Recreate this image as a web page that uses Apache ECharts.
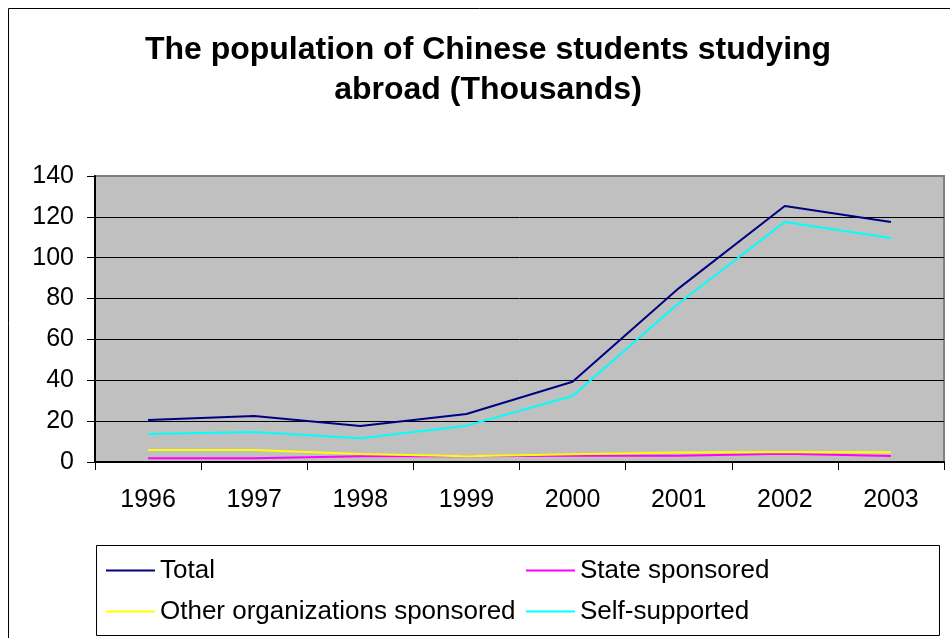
<!DOCTYPE html>
<html>
<head>
<meta charset="utf-8">
<script src="https://cdn.jsdelivr.net/npm/echarts@6/dist/echarts.min.js"></script>
<style>
html,body{margin:0;padding:0;background:#fff;}
#chart{width:950px;height:638px;}
</style>
</head>
<body>
<div id="chart"></div>
<script>
var years = ['1996', '1997', '1998', '1999', '2000', '2001', '2002', '2003'];
var totalValues = [20.6, 22.5, 17.6, 23.5, 39.3, 85.0, 125.3, 117.5];
var stateValues = [1.8, 1.8, 2.8, 2.8, 3.0, 3.0, 4.0, 2.9];
var otherValues = [5.9, 5.9, 3.9, 2.8, 3.8, 4.6, 4.9, 4.8];
var selfValues = [13.7, 14.7, 11.6, 17.8, 32.3, 77.7, 117.5, 109.6];
var yTicks = [0, 20, 40, 60, 80, 100, 120, 140];

var FONT = '"Liberation Sans", Arial, sans-serif';
var chart = echarts.init(document.getElementById('chart'));

function mkSeries(name, data, color) {
  return {
    name: name, type: 'line', data: data, symbol: 'none', showSymbol: false,
    color: color, lineStyle: { color: color, width: 2 }, animation: false
  };
}

var legendBase = {
  orient: 'vertical', padding: 0, itemWidth: 49, itemHeight: 2, itemGap: 8,
  icon: 'rect', selectedMode: false,
  textStyle: { fontFamily: FONT, fontSize: 26, color: '#000', lineHeight: 26, padding: [0, 0, 7, 0] }
};

chart.setOption({
  animation: false,
  backgroundColor: '#fff',
  title: {
    text: 'The population of Chinese students studying\nabroad (Thousands)',
    left: 488, top: 30, textAlign: 'center', padding: 0,
    textStyle: { fontFamily: FONT, fontSize: 32, fontWeight: 'bold', color: '#000', lineHeight: 40 }
  },
  legend: [
    Object.assign({}, legendBase, { left: 106, top: 554, data: ['Total', 'Other organizations sponsored'] }),
    Object.assign({}, legendBase, { left: 526, top: 554, data: ['State sponsored', 'Self-supported'] })
  ],
  grid: {
    left: 95, right: 6, top: 176, bottom: 176, show: true,
    backgroundColor: '#c0c0c0', borderColor: '#808080', borderWidth: 2
  },
  xAxis: {
    type: 'category', data: years, boundaryGap: true,
    axisLine: { show: true, lineStyle: { color: '#000', width: 2 } },
    axisTick: { show: true, inside: false, length: 8, interval: 0, lineStyle: { color: '#000', width: 1 } },
    axisLabel: { interval: 0, margin: 26, fontFamily: FONT, fontSize: 25, color: '#000' },
    splitLine: { show: false }
  },
  yAxis: {
    type: 'value', min: yTicks[0], max: yTicks[yTicks.length - 1], interval: 20,
    axisLine: { show: true, lineStyle: { color: '#000', width: 2 } },
    axisTick: { show: true, inside: false, length: 8, lineStyle: { color: '#000', width: 1 } },
    axisLabel: { margin: 21, fontFamily: FONT, fontSize: 25, color: '#000' },
    splitLine: { show: true, lineStyle: { color: ['#000', '#000', '#000', '#000', '#000', '#000', '#000', '#808080'], width: 1 } }
  },
  graphic: [
    { type: 'rect', shape: { x: 8.5, y: 8.5, width: 1000, height: 700 }, style: { fill: 'none', stroke: '#000', lineWidth: 1 }, silent: true, z: -1 },
    { type: 'rect', shape: { x: 96.5, y: 545.5, width: 843, height: 90 }, style: { fill: 'none', stroke: '#000', lineWidth: 1 }, silent: true }
  ],
  series: [
    mkSeries('Total', totalValues, '#000080'),
    mkSeries('State sponsored', stateValues, '#ff00ff'),
    mkSeries('Other organizations sponsored', otherValues, '#ffff00'),
    mkSeries('Self-supported', selfValues, '#00ffff')
  ]
});
</script>
</body>
</html>
